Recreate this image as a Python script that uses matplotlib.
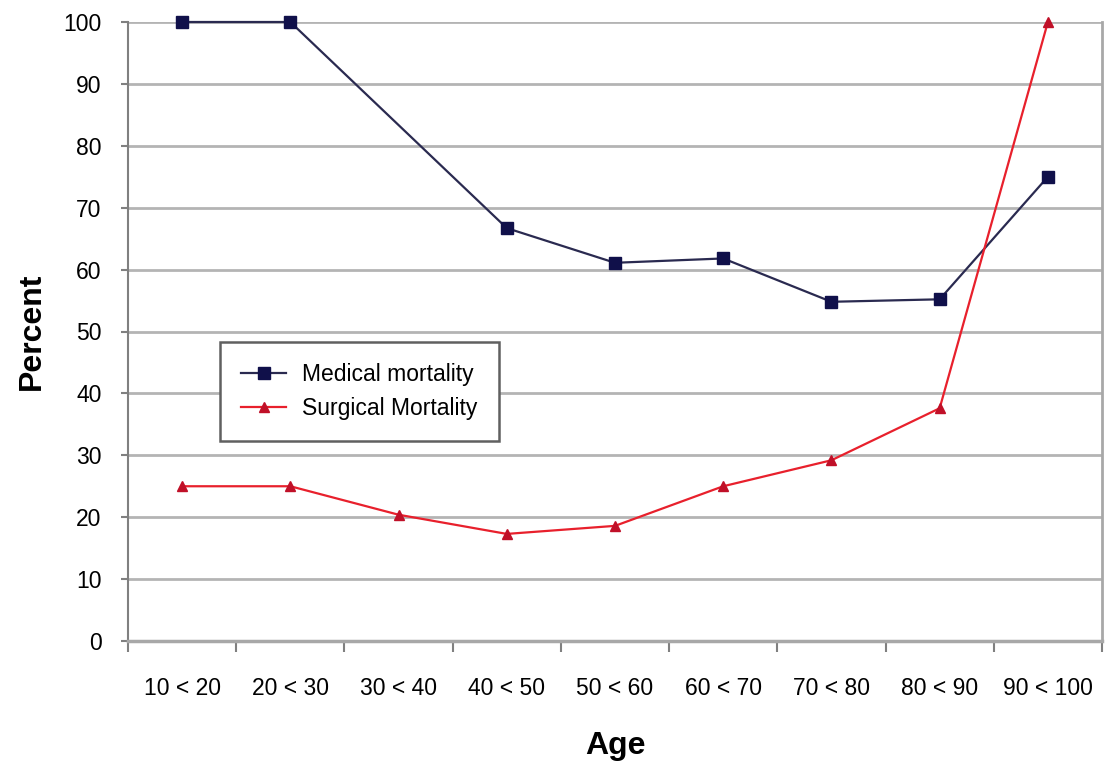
import numpy as np
import matplotlib
matplotlib.use("Agg")
import matplotlib.pyplot as plt

plt.rcParams['font.family'] = ['Liberation Sans', 'DejaVu Sans']

ages = ['10 < 20', '20 < 30', '30 < 40', '40 < 50', '50 < 60',
        '60 < 70', '70 < 80', '80 < 90', '90 < 100']
medical = [100, 100, None, 66.7, 61.1, 61.8, 54.8, 55.2, 75.0]
surgical = [25.0, 25.0, 20.4, 17.3, 18.6, 25.0, 29.2, 37.6, 100]

fig = plt.figure(figsize=(11.05, 7.61), dpi=100)
ax = fig.add_axes([128 / 1105, 120 / 761, 974 / 1105, 619 / 761])

# medical has no value for 30 < 40, line just joins over it
mx = [i for i, v in enumerate(medical) if v is not None]
my = [v for v in medical if v is not None]
ax.plot(mx, my, color='#2a2a50', lw=1.6, marker='s', ms=8,
        mfc='#10104a', mec='#10104a', label='Medical mortality', zorder=3,
        clip_on=False)
ax.plot(range(len(ages)), surgical, color='#e8202c', lw=1.6, marker='^', ms=7,
        mfc='#c01028', mec='#c01028', label='Surgical Mortality', zorder=3,
        clip_on=False)

ax.set_xlim(-0.5, len(ages) - 0.5)
ax.set_ylim(0, 100)
ax.set_yticks(np.arange(0, 101, 10))
ax.yaxis.grid(True, color='#b4b4b4', lw=2)
ax.set_axisbelow(True)

# category ticks at the boundaries, labels at the centres
ax.set_xticks(np.arange(-0.5, len(ages), 1))
ax.set_xticklabels([])
ax.set_xticks(range(len(ages)), minor=True)
ax.set_xticklabels(ages, minor=True, fontsize=16.5)
ax.tick_params(axis='x', which='major', length=8, width=1.5, color='#808080')
ax.tick_params(axis='x', which='minor', length=0, pad=26)
ax.tick_params(axis='y', length=5, width=1.5, color='#808080', labelsize=16.5, pad=14)

ax.spines['top'].set_visible(False)
ax.spines['left'].set_color('#808080')
ax.spines['left'].set_linewidth(1.5)
ax.spines['bottom'].set_color('#a8a8a8')
ax.spines['bottom'].set_linewidth(2.5)
ax.spines['right'].set_color('#a8a8a8')
ax.spines['right'].set_linewidth(2)

ax.set_xlabel('Age', fontsize=23, fontweight='bold', labelpad=22)
ax.set_ylabel('Percent', fontsize=23, fontweight='bold', labelpad=12)

leg = ax.legend(loc='upper left', bbox_to_anchor=(220 / 1105, 1 - 342 / 761),
                bbox_transform=fig.transFigure, fontsize=16.5, fancybox=False,
                framealpha=1, edgecolor='#606060', borderpad=0.9,
                borderaxespad=0, handlelength=2.0, handletextpad=0.7,
                labelspacing=0.5)
leg.get_frame().set_linewidth(1.8)

fig.savefig('out.png', dpi=100)
